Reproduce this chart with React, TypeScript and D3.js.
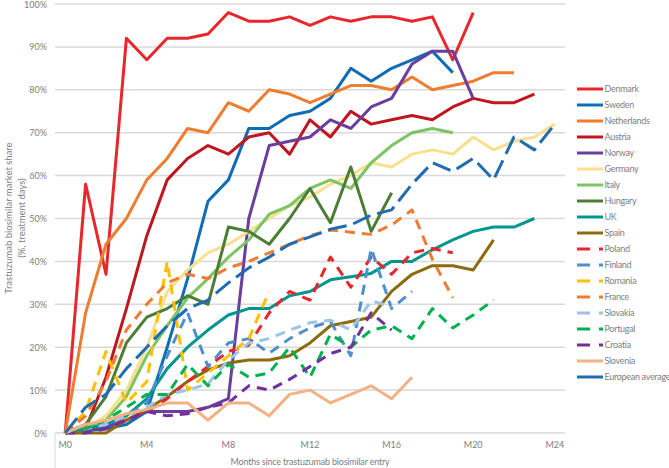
import React from "react";
import * as d3 from "d3";

const months = ["M0","M1","M2","M3","M4","M5","M6","M7","M8","M9","M10","M11","M12","M13","M14","M15","M16","M17","M18","M19","M20","M21","M22","M23","M24"];
const xTickLabels = ["M0","M4","M8","M12","M16","M20","M24"];
const yTicks = [0,10,20,30,40,50,60,70,80,90,100];

const denmark = [0,58,37,92,87,92,92,93,98,96,96,97,95,97,96,97,97,96,97,87,98];
const sweden = [0,0.5,1,2,5,20,36,54,59,71,71,74,75,78,85,82,85,87,89,84];
const netherlands = [0,28,44,50,59,64,71,70,77,75,80,79,77,79,81,81,80,83,80,81,82,84,84];
const austria = [0,1,13,29,46,59,64,67,65,69,70,65,73,69,75,72,73,74,73,76,78,77,77,79];
const norway = [0,0.5,1.5,3,5,5,5,6,8,50,67,68,69,73,71,76,78,86,89,89,78];
const germany = [0,1,4,10,20,33,38,42,44,47,50,53,55,58,60,63,62,65,66,65,69,66,68,69,72];
const italy = [0,1,3,8.5,18,25,31.5,36,41,45,51,53,57,59,57,63,67,70,71,70];
const hungary = [0,2,8.5,21,27,29,32,30,48,47,44,50,57,49,62,47,56];
const uk = [0,1,2,4,8,15,20,24,27.5,29,29,32,33,35.7,36.4,37.2,40,40,42.7,45,47,48,48,50];
const spain = [0,0,0,3,5.5,8.5,12,14.7,16.3,17,17,18,21,25,26,27,33,37,39,39,38,45];
const poland = [0,1,2,3,5,8,12,15.5,19,20.5,28,33,31,41,34,41,37,42,43,42];
const finland = [0,1,2,4,7,18,28,15.5,21,22,18.6,22,24.5,26,18,43,29,33];
const romania = [0,5,19,7,12,40,10,14,18,22,33];
const france = [0,4,12,24,30,35,37,36,38.5,40,42,44,46,47.3,46.8,46.3,48.5,52,40.5,31.5];
const slovakia = [0,1,2,4,6,9,10,11.5,17,21,22,24,25.7,26.3,24,30.8,29.5];
const portugal = [0,1,3,6,9,9,16,11,16,13,14,20,13,23,20,24,25,22,29,24.5,27.5,31];
const croatia = [0,0,1,3,5,4,4.5,6,7,11,10,12.5,15.5,18.5,20,28,24];
const slovenia = [0,2,3,4.5,5.5,7,7,3,7,7,4,9,10,7,9,11,8,13];
const europeanAverage = [0,6,9,15,20,25,29,31,35,38.5,41,44,45.7,47.5,48.5,50.8,52,58,63,61,64,59,69,66,72];

type S = { name: string; values: number[]; color: string; dash: "solid" | "dash" | "long" };
const series: S[] = [
  { name: "Denmark", values: denmark, color: "#E8262B", dash: "solid" },
  { name: "Sweden", values: sweden, color: "#0F6DB6", dash: "solid" },
  { name: "Netherlands", values: netherlands, color: "#ED7D31", dash: "solid" },
  { name: "Austria", values: austria, color: "#C0161F", dash: "solid" },
  { name: "Norway", values: norway, color: "#6A3E9E", dash: "solid" },
  { name: "Germany", values: germany, color: "#F9DF8E", dash: "solid" },
  { name: "Italy", values: italy, color: "#7DC462", dash: "solid" },
  { name: "Hungary", values: hungary, color: "#4C7D35", dash: "solid" },
  { name: "UK", values: uk, color: "#00968F", dash: "solid" },
  { name: "Spain", values: spain, color: "#8C6B0A", dash: "solid" },
  { name: "Poland", values: poland, color: "#E8262B", dash: "dash" },
  { name: "Finland", values: finland, color: "#4F8FCF", dash: "dash" },
  { name: "Romania", values: romania, color: "#FFC000", dash: "dash" },
  { name: "France", values: france, color: "#ED7D31", dash: "dash" },
  { name: "Slovakia", values: slovakia, color: "#9DC3E6", dash: "dash" },
  { name: "Portugal", values: portugal, color: "#00B050", dash: "dash" },
  { name: "Croatia", values: croatia, color: "#7030A0", dash: "dash" },
  { name: "Slovenia", values: slovenia, color: "#F4B183", dash: "solid" },
  { name: "European average", values: europeanAverage, color: "#1F6BB4", dash: "long" },
];

const W = 669, H = 468;
const FONT = "Lato, 'Liberation Sans', sans-serif";
const GRAY = "#808080";

export default function App() {
  const x = d3.scaleBand<string>().domain(months).range([55, 565]);
  const xc = (i: number) => (x(months[i]) as number) + x.bandwidth() / 2;
  const y = d3.scaleLinear().domain([0, 100]).range([433, 4]);
  const line = d3.line<number>().x((_, i) => xc(i)).y(d => y(d));
  const dashOf = (d: S["dash"]) => (d === "dash" ? "10,7" : d === "long" ? "19,7" : undefined);

  return (
    <svg width={W} height={H} style={{ position: "absolute", left: 0, top: 0, background: "#fff" }} fontFamily={FONT}>
      <rect x={0} y={0} width={W} height={H} fill="#fff" />
      {yTicks.map(t => (
        <g key={t}>
          <line x1={55} x2={565} y1={y(t)} y2={y(t)} stroke="#D9D9D9" strokeWidth={1.5} />
          <text x={47} y={y(t) + 3.5} textAnchor="end" fontSize={9} fill={GRAY}>{t}%</text>
        </g>
      ))}
      <line x1={55} x2={55} y1={433} y2={468} stroke="#D9D9D9" strokeWidth={1} />
      {xTickLabels.map(m => (
        <text key={m} x={(x(m) as number) + x.bandwidth() / 2} y={445} dy="0.35em" textAnchor="middle" fontSize={9} fill={GRAY}>{m}</text>
      ))}
      <text x={310} y={462} dy="0.35em" textAnchor="middle" fontSize={9} letterSpacing={-0.2} fill={GRAY}>Months since trastuzumab biosimilar entry</text>
      <text transform={`translate(9,218) rotate(-90)`} textAnchor="middle" dy="0.35em" fontSize={9.5} fill={GRAY}>Trastuzumab biosimilar market share</text>
      <text transform={`translate(22,218) rotate(-90)`} textAnchor="middle" dy="0.35em" fontSize={9.5} fill={GRAY}>(%, treatment days)</text>
      {series.map(s => (
        <path key={s.name} d={line(s.values) || ""} fill="none" stroke={s.color} strokeWidth={3}
          strokeDasharray={dashOf(s.dash)} strokeLinejoin="round" />
      ))}
      {series.map((s, i) => {
        const ly = 89 + i * 16;
        return (
          <g key={s.name}>
            <line x1={577} x2={603} y1={ly} y2={ly} stroke={s.color} strokeWidth={3}
              strokeDasharray={s.dash === "dash" ? "13,9" : undefined} />
            <text x={604.5} y={ly} dy="0.35em" fontSize={9} letterSpacing={-0.3} fill={GRAY}>{s.name}</text>
          </g>
        );
      })}
    </svg>
  );
}
